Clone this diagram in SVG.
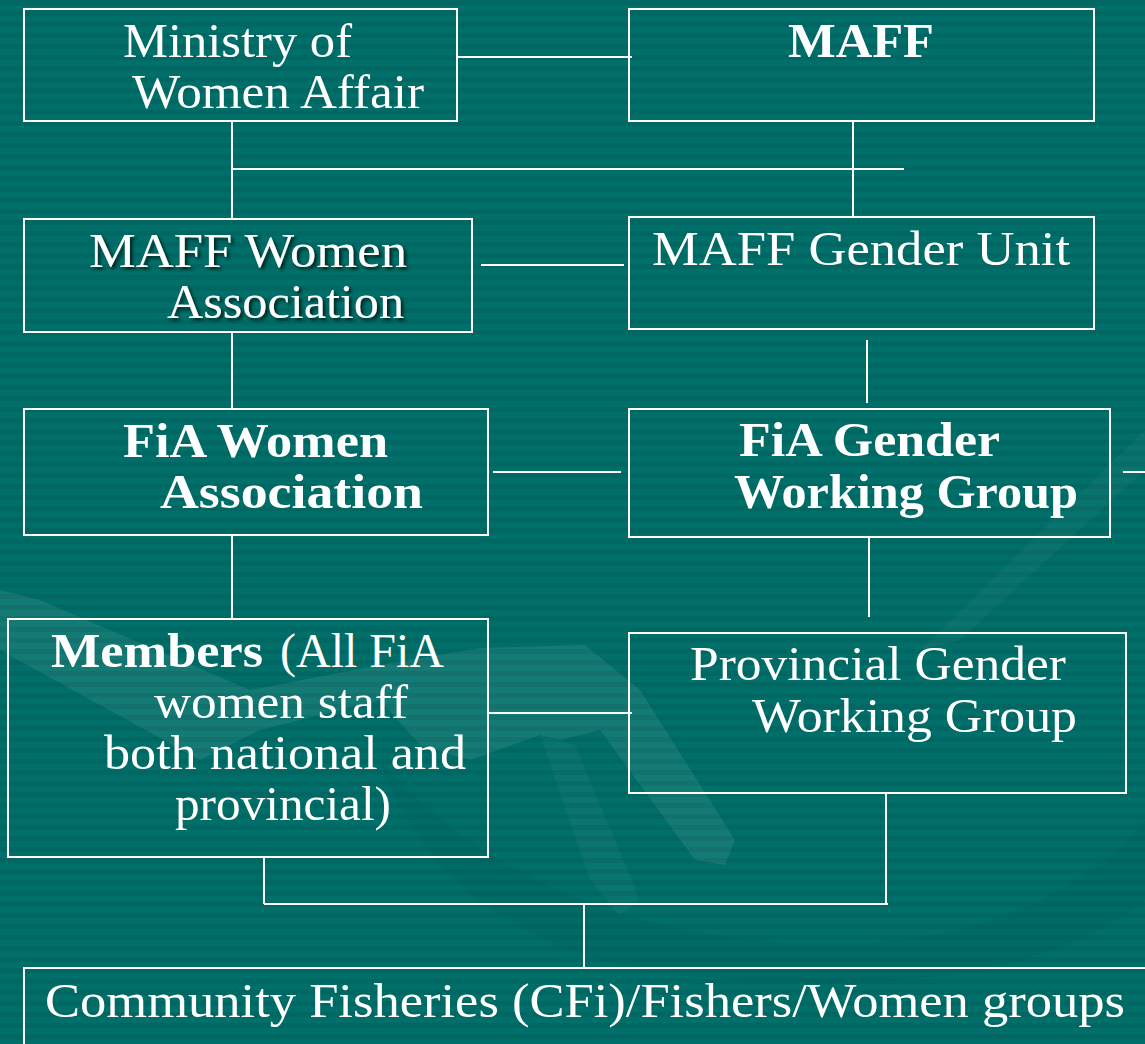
<svg xmlns="http://www.w3.org/2000/svg" width="1145" height="1044" viewBox="0 0 1145 1044">
  <defs>
    <pattern id="stripes" x="0" y="0" width="20" height="11" patternUnits="userSpaceOnUse">
      <rect width="20" height="11" fill="#006f69"/>
      <rect y="0" width="20" height="5" fill="#006762"/>
    </pattern>
    <filter id="shadow" x="-5%" y="-20%" width="115%" height="150%">
      <feDropShadow dx="2.5" dy="2.5" stdDeviation="1.5" flood-color="#001a18" flood-opacity="0.9"/>
    </filter>
    <style>
      .box { fill: none; stroke: #ffffff; stroke-width: 2; }
      .conn { fill: none; stroke: #ffffff; stroke-width: 2; }
      .t { font-family: "Liberation Serif", "DejaVu Serif", serif; font-size: 48px; fill: #ffffff; }
      .b { font-weight: bold; }
    </style>
  </defs>

  <!-- background -->
  <rect width="1145" height="1044" fill="url(#stripes)"/>
  <g id="backdrop">
    <path d="M 0 590 L 40 600 L 250 690 L 380 665 L 480 648 L 585 645 L 640 690 L 735 840 L 725 865 L 695 860 L 600 730 L 560 740 L 540 735 L 470 760 L 420 745 L 380 700 L 260 730 L 200 760 L 0 650 Z" fill="#ffffff" fill-opacity="0.08"/>
    <path d="M 540 735 L 575 745 L 640 900 L 620 915 L 590 880 Z" fill="#ffffff" fill-opacity="0.04"/>
    <path d="M 1145 430 L 1145 470 L 960 640 L 920 650 Z" fill="#ffffff" fill-opacity="0.035"/>
    <path d="M 380 760 C 500 900 700 960 900 940 C 1000 930 1100 880 1145 820 L 1145 900 C 1050 980 850 1000 650 970 C 520 950 420 880 380 760 Z" fill="#004f4a" fill-opacity="0.1"/>
  </g>

  <!-- connectors -->
  <g id="connectors" class="conn">
    <path d="M457 57 H632"/>
    <path d="M232 121 V218"/>
    <path d="M232 169 H904"/>
    <path d="M853 121 V217"/>
    <path d="M481 265 H624"/>
    <path d="M232 332 V409"/>
    <path d="M867 340 V403"/>
    <path d="M493 472 H621"/>
    <path d="M1123 472 H1145"/>
    <path d="M232 535 V618"/>
    <path d="M869 537 V617"/>
    <path d="M488 713 H632"/>
    <path d="M264 857 V904"/>
    <path d="M264 904 H888"/>
    <path d="M886 793 V904"/>
    <path d="M584 904 V968"/>
  </g>

  <g id="ministry">
    <rect class="box" x="24" y="9" width="433" height="112"/>
    <text class="t" x="123" y="57" textLength="229" lengthAdjust="spacingAndGlyphs">Ministry of</text>
    <text class="t" x="132" y="108" textLength="292" lengthAdjust="spacingAndGlyphs">Women Affair</text>
  </g>

  <g id="maff">
    <rect class="box" x="629" y="9" width="465" height="112"/>
    <text class="t b" x="788" y="57" textLength="146" lengthAdjust="spacingAndGlyphs">MAFF</text>
  </g>

  <g id="maff-women">
    <rect class="box" x="24" y="219" width="448" height="113"/>
    <g filter="url(#shadow)">
      <text class="t" x="89" y="267" textLength="318" lengthAdjust="spacingAndGlyphs">MAFF Women</text>
      <text class="t" x="167" y="318" textLength="237" lengthAdjust="spacingAndGlyphs">Association</text>
    </g>
  </g>

  <g id="maff-gender-unit">
    <rect class="box" x="629" y="217" width="465" height="112"/>
    <text class="t" x="652" y="265" textLength="418" lengthAdjust="spacingAndGlyphs">MAFF Gender Unit</text>
  </g>

  <g id="fia-women">
    <rect class="box" x="24" y="409" width="464" height="126"/>
    <text class="t b" x="123" y="457" textLength="265" lengthAdjust="spacingAndGlyphs">FiA Women</text>
    <text class="t b" x="160" y="508" textLength="263" lengthAdjust="spacingAndGlyphs">Association</text>
  </g>

  <g id="fia-gender">
    <rect class="box" x="629" y="409" width="481" height="128"/>
    <text class="t b" x="739" y="456" textLength="261" lengthAdjust="spacingAndGlyphs">FiA Gender</text>
    <text class="t b" x="734" y="508" textLength="344" lengthAdjust="spacingAndGlyphs">Working Group</text>
  </g>

  <g id="members">
    <rect class="box" x="8" y="619" width="480" height="238"/>
    <text class="t b" x="51" y="667" textLength="212" lengthAdjust="spacingAndGlyphs">Members</text>
    <text class="t" x="280" y="667" textLength="164" lengthAdjust="spacingAndGlyphs">(All FiA</text>
    <text class="t" x="154" y="718" textLength="254" lengthAdjust="spacingAndGlyphs">women staff</text>
    <text class="t" x="104" y="769" textLength="362" lengthAdjust="spacingAndGlyphs">both national and</text>
    <text class="t" x="175" y="820" textLength="216" lengthAdjust="spacingAndGlyphs">provincial)</text>
  </g>

  <g id="provincial">
    <rect class="box" x="629" y="633" width="497" height="160"/>
    <text class="t" x="690" y="680" textLength="376" lengthAdjust="spacingAndGlyphs">Provincial Gender</text>
    <text class="t" x="752" y="732" textLength="325" lengthAdjust="spacingAndGlyphs">Working Group</text>
  </g>

  <g id="community">
    <rect class="box" x="24" y="968" width="1140" height="90"/>
    <text class="t" x="45" y="1017" textLength="1080" lengthAdjust="spacingAndGlyphs">Community Fisheries (CFi)/Fishers/Women groups</text>
  </g>
</svg>
